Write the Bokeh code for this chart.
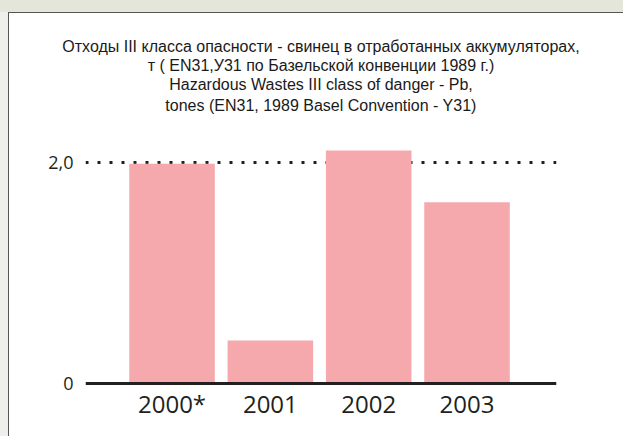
from bokeh.plotting import figure
from bokeh.models import Range1d, FixedTicker, Span, Title, GlobalInlineStyleSheet
from bokeh.embed import file_html
from bokeh.resources import INLINE

# ---- data ----
categories = ["2000*", "2001", "2002", "2003"]
values = [1.99, 0.39, 2.11, 1.64]
y_ticks = [0, 2]
y_tick_labels = ["0", "2,0"]
title_lines = [
    "Отходы III класса опасности - свинец в отработанных аккумуляторах,",
    "т ( EN31,У31 по Базельской конвенции 1989 г.)",
    "Hazardous Wastes III class of danger - Pb,",
    "tones (EN31, 1989 Basel Convention - Y31)",
]

xs = list(range(len(categories)))
ink = "#231f20"

page_css = """
html, body { margin: 0 !important; padding: 0 !important;
  background:
    linear-gradient(#555555, #555555) 8px 12px / 100% 1px no-repeat,
    linear-gradient(#555555, #555555) 8px 12px / 1px 100% no-repeat,
    linear-gradient(#e5e6da, #e5e6da) 0 0 / 100% 12px no-repeat,
    #eeefec; }
"""

p = figure(
    width=614, height=423,
    x_range=Range1d(-0.88, 3.91), y_range=Range1d(-0.027, 2.426),
    output_backend="svg", toolbar_location=None,
    min_border_left=76, min_border_right=67, min_border_top=102, min_border_bottom=50,
)
p.stylesheets = [GlobalInlineStyleSheet(css=page_css)]
p.styles = {"margin-top": "13px", "margin-left": "9px", "background-color": "white"}
p.background_fill_color = "white"
p.border_fill_color = "white"
p.outline_line_color = None

# title: one centered Title per line, added from the frame outward
for i, line in enumerate(reversed(title_lines)):
    p.add_layout(Title(text=line, align="center", text_font="Liberation Sans",
                       text_font_size="16px", text_font_style="normal", text_color="#1a1a1a",
                       standoff=(4 if i == 0 else 0)), "above")

# grid: dotted line at 2,0
p.xgrid.visible = False
p.ygrid.ticker = FixedTicker(ticks=[2])
p.ygrid.grid_line_color = ink
p.ygrid.grid_line_dash = "3 9"
p.ygrid.grid_line_width = 3

p.vbar(x=xs, top=values, width=0.87, bottom=0, fill_color="#f6a9ac", line_color=None)

p.add_layout(Span(location=0, dimension="width", line_color=ink, line_width=3))

# axes
p.xaxis.ticker = FixedTicker(ticks=xs)
p.xaxis.major_label_overrides = {i: c for i, c in zip(xs, categories)}
p.xaxis.axis_line_color = None
p.xaxis.major_tick_line_color = None
p.xaxis.minor_tick_line_color = None
p.xaxis.major_label_text_font = "Open Sans"
p.xaxis.major_label_text_font_size = "24px"
p.xaxis.major_label_text_color = ink
p.xaxis.major_label_standoff = -6

p.yaxis.ticker = FixedTicker(ticks=y_ticks)
p.yaxis.major_label_overrides = {t: l for t, l in zip(y_ticks, y_tick_labels)}
p.yaxis.axis_line_color = None
p.yaxis.major_tick_line_color = None
p.yaxis.minor_tick_line_color = None
p.yaxis.major_label_text_font = "Open Sans"
p.yaxis.major_label_text_font_size = "18px"
p.yaxis.major_label_text_color = ink
p.yaxis.major_label_standoff = 6

open("out.html", "w").write(file_html(p, INLINE))
